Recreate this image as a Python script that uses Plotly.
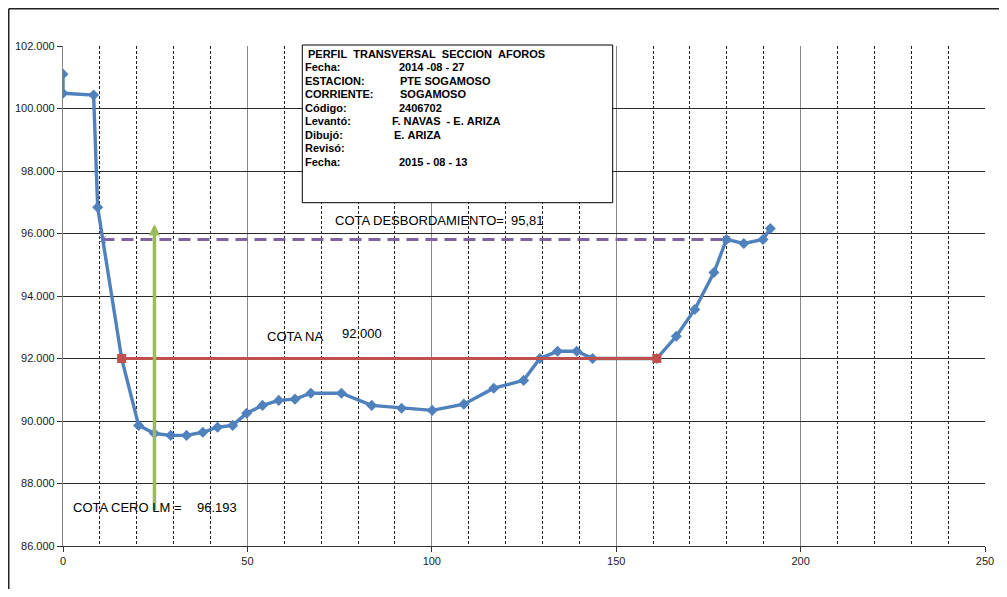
import plotly.graph_objects as go

# ---------------- data ----------------
dist = [0, 0, 8.3, 9.4, 15.9, 20.5, 24.8, 29.2, 33.5, 37.9, 41.9, 46.0, 49.8, 54.1, 58.5,
        62.9, 67.2, 75.5, 83.7, 91.8, 100.1, 108.7, 116.8, 124.9, 129.3, 134.1, 139.3,
        143.6, 161.0, 166.3, 171.3, 176.5, 179.9, 184.6, 189.8, 191.8]
elev = [101.1, 100.49, 100.43, 96.84, 92.0, 89.86, 89.6, 89.54, 89.54, 89.64, 89.8, 89.86,
        90.25, 90.5, 90.66, 90.7, 90.89, 90.89, 90.5, 90.41, 90.34, 90.54, 91.05, 91.3,
        92.0, 92.23, 92.23, 92.0, 92.0, 92.71, 93.57, 94.75, 95.81, 95.68, 95.81, 96.16]

na_x = [15.9, 161.0]
na_y = [92.0, 92.0]

desb_x = [10.7, 179.9]
desb_y = [95.81, 95.81]

lm_x = 24.8
lm_from = 87.1
lm_to = 96.3

x_ticks = [0, 50, 100, 150, 200, 250]
y_ticks = [86, 88, 90, 92, 94, 96, 98, 100, 102]

box_labels = ["Fecha:", "ESTACION:", "CORRIENTE:", "Código:", "Levantó:", "Dibujó:", "Revisó:", "Fecha:"]
box_values = ["2014 -08 - 27", "PTE SOGAMOSO", "SOGAMOSO", "2406702",
              "F. NAVAS  - E. ARIZA", "E. ARIZA", "", "2015 - 08 - 13"]
box_title = "PERFIL  TRANSVERSAL  SECCION  AFOROS"

# ---------------- figure ----------------
OFF = 8  # default page body margin
W, H = 1007 - 2 * OFF, 597 - 2 * OFF
# plot area in page pixels: x 63..985, y 46..546
ML = 63 - OFF
MT = 46 - OFF
MR = W - (985 - OFF)
MB = H - (546 - OFF)
PW, PH = W - ML - MR, H - MT - MB


def px2paper_x(px):
    return (px - OFF - ML) / PW


def px2paper_y(py):
    return 1 - (py - OFF - MT) / PH


def nb(s):
    return s.replace(" ", "\u00a0")


FONT = "Liberation Sans, Arial, sans-serif"

fig = go.Figure()

fig.add_trace(go.Scatter(
    x=desb_x, y=desb_y, mode="lines+markers",
    line=dict(color="#8064A2", width=3, dash="12px,7px"),
    marker=dict(symbol="x-thin", size=7, line=dict(color="#8064A2", width=1)),
    showlegend=False, hoverinfo="skip"))

fig.add_trace(go.Scatter(
    x=dist, y=elev, mode="lines+markers",
    line=dict(color="#4F81BD", width=3.4),
    marker=dict(symbol="diamond", size=8.5, color="#4F81BD"),
    showlegend=False))

fig.add_trace(go.Scatter(
    x=na_x, y=na_y, mode="lines+markers",
    line=dict(color="#C0504D", width=3),
    marker=dict(symbol="square", size=9, color="#C0504D"),
    showlegend=False))

annotations = []
# green arrow (COTA CERO LM)
annotations.append(dict(
    x=lm_x, y=lm_to, ax=lm_x, ay=lm_from, xref="x", yref="y", axref="x", ayref="y",
    showarrow=True, arrowhead=2, arrowsize=0.65, arrowwidth=3.5, arrowcolor="#9BBB59",
    text=""))

lab_font = dict(family=FONT, size=13, color="black")
annotations += [
    dict(x=2.3, y=87.23, xref="x", yref="y", text="COTA CERO LM =", showarrow=False,
         xanchor="left", yanchor="middle", font=lab_font),
    dict(x=35.7, y=87.23, xref="x", yref="y", text="96.193", showarrow=False,
         xanchor="left", yanchor="middle", font=lab_font),
    dict(x=54.9, y=92.70, xref="x", yref="y", text="COTA NA", showarrow=False,
         xanchor="left", yanchor="middle", font=lab_font),
    dict(x=75.2, y=92.81, xref="x", yref="y", text="92.000", showarrow=False,
         xanchor="left", yanchor="middle", font=lab_font),
    dict(x=73.1, y=96.41, xref="x", yref="y", text="COTA DESBORDAMIENTO=", showarrow=False,
         xanchor="left", yanchor="middle", font=lab_font),
    dict(x=121.0, y=96.41, xref="x", yref="y", text="95,81", showarrow=False,
         xanchor="left", yanchor="middle", font=lab_font),
]

# info box text
box_font = dict(family=FONT, size=11, color="black", weight="bold")
annotations.append(dict(x=px2paper_x(306), y=px2paper_y(54), xref="paper", yref="paper",
                        text=nb(box_title), showarrow=False, xanchor="left", yanchor="middle",
                        font=box_font))
row_y = [66.7, 81, 94.3, 108.3, 121, 135, 148.3, 162.3]
val_x = [397, 398, 398, 397, 390, 392, 397, 396.5]
for lab, val, ry, vx in zip(box_labels, box_values, row_y, val_x):
    annotations.append(dict(x=px2paper_x(303), y=px2paper_y(ry), xref="paper", yref="paper",
                            text=nb(lab), showarrow=False, xanchor="left", yanchor="middle",
                            font=box_font))
    if val:
        annotations.append(dict(x=px2paper_x(vx), y=px2paper_y(ry), xref="paper", yref="paper",
                                text=nb(val), showarrow=False, xanchor="left", yanchor="middle",
                                font=box_font))

shapes = [
    # info box
    dict(type="rect", xref="paper", yref="paper",
         x0=px2paper_x(302.3), x1=px2paper_x(612.7), y0=px2paper_y(202.7), y1=px2paper_y(45),
         line=dict(color="black", width=1), fillcolor="white", layer="above"),
    # outer chart frame (left & top)
    dict(type="line", xref="paper", yref="paper",
         x0=px2paper_x(OFF + 0.75), x1=px2paper_x(OFF + 0.75),
         y0=px2paper_y(OFF + 0.75), y1=px2paper_y(620),
         line=dict(color="#222222", width=1.5)),
    dict(type="line", xref="paper", yref="paper",
         x0=px2paper_x(OFF + 0.75), x1=px2paper_x(1030),
         y0=px2paper_y(OFF + 0.75), y1=px2paper_y(OFF + 0.75),
         line=dict(color="#222222", width=1.5)),
]

tick_font = dict(family=FONT, size=11, color="#1a1a1a")

fig.update_layout(
    width=W, height=H,
    margin=dict(l=ML, r=MR, t=MT, b=MB, autoexpand=False),
    paper_bgcolor="white", plot_bgcolor="white",
    showlegend=False,
    annotations=annotations,
    shapes=shapes,
    xaxis=dict(range=[0, 250], tickvals=x_ticks, ticktext=[str(v) for v in x_ticks],
               automargin=False,
               showgrid=True, gridcolor="#8a8a8a", gridwidth=1.2,
               minor=dict(dtick=10, tick0=0, showgrid=True, gridcolor="#222222",
                          griddash="3px,2px", gridwidth=1, ticks=""),
               showline=True, linecolor="#333333", linewidth=1.2,
               ticks="outside", ticklen=5, tickcolor="#333333",
               tickfont=tick_font, zeroline=False, fixedrange=True),
    yaxis=dict(range=[86, 102], tickvals=y_ticks, ticktext=[f"{v:.3f}" for v in y_ticks],
               automargin=False,
               showgrid=True, gridcolor="#2a2a2a", gridwidth=1,
               showline=True, linecolor="#808080", linewidth=1.2,
               ticks="outside", ticklen=5, tickcolor="#333333",
               tickfont=tick_font, zeroline=False, fixedrange=True),
)

fig.write_html("out.html")
